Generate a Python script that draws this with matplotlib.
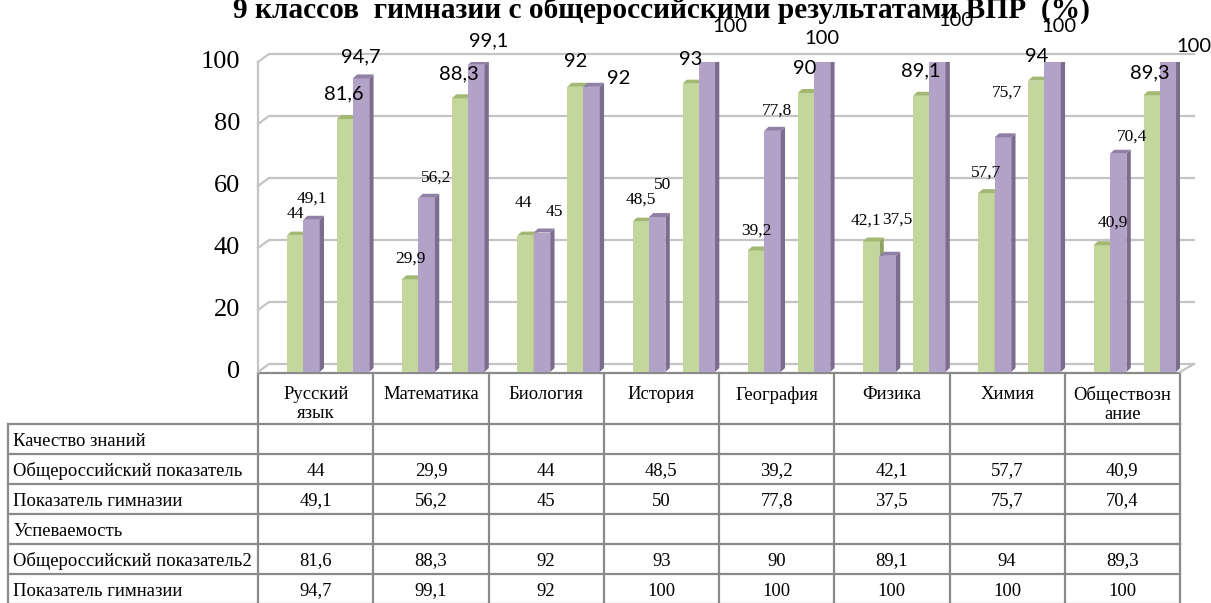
import matplotlib
matplotlib.use('Agg')
import matplotlib.pyplot as plt
from matplotlib.patches import Polygon

# ============================================================
# DATA
# ============================================================
kategori = ['Русский\nязык', 'Математика', 'Биология', 'История',
            'География', 'Физика', 'Химия', 'Обществозн\nание']
kualitas_rf = [44, 29.9, 44, 48.5, 39.2, 42.1, 57.7, 40.9]
kualitas_gim = [49.1, 56.2, 45, 50, 77.8, 37.5, 75.7, 70.4]
sukses_rf = [81.6, 88.3, 92, 93, 90, 89.1, 94, 89.3]
sukses_gim = [94.7, 99.1, 92, 100, 100, 100, 100, 100]

baris_label = ['Качество знаний', 'Общероссийский показатель', 'Показатель гимназии',
               'Успеваемость', 'Общероссийский показатель2', 'Показатель гимназии']
baris_data = [None, kualitas_rf, kualitas_gim, None, sukses_rf, sukses_gim]
y_ticks = [0, 20, 40, 60, 80, 100]
judul = '9 классов  гимназии с общероссийскими результатами ВПР  (%)'

# ============================================================
# LAYOUT (pixel)
# ============================================================
W, H = 1211, 603
X0, X1 = 258, 1180          # front plane of plot / table columns
Y0, Y100 = 372, 62          # value 0 and 100 in pixel
PX_X = (X1 - X0) / len(kategori)
PX_Y = (Y0 - Y100) / 100.0

# offset label (dx, dy ke atas) in pixel, per seri
off_krf = [(0, 22), (0, 21), (-2, 33), (0, 22), (0, 20), (-5, 21), (0, 20), (11, 23)]
off_kgim = [(0, 21), (9, 20), (12, 21), (5, 32), (5, 20), (10, 36), (4, 45), (14, 17)]
off_srf = [(-1, 25), (-1, 24), (0, 25), (0, 24), (-1, 24), (-1, 25), (0, 24), (-2, 22)]
off_sgim = [(0, 22), (12, 24), (27, 8), (23, 35), (0, 23), (19, 41), (6, 35), (26, 16)]

HIJAU = ('#C3D69B', '#8FA55F', '#A2B873')   # front, side, top
UNGU = ('#B3A2C7', '#7B6D8E', '#9080A6')
GRID = '#C4C4C4'
GARIS_TABEL = '#8A8A8A'
SERIF = 'Liberation Serif'


def fmt(v):
    return f'{v:g}'.replace('.', ',')


fig = plt.figure(figsize=(W / 100, H / 100), dpi=100)

# overlay in pixel coordinates (title + table)
ov = fig.add_axes([0, 0, 1, 1])
ov.set_xlim(0, W)
ov.set_ylim(H, 0)
ov.axis('off')

ax = fig.add_axes([X0 / W, (H - Y0) / H, (X1 - X0) / W, (Y0 - Y100) / H])
ax.set_xlim(0, len(kategori))
ax.set_ylim(0, 100)
ax.axis('off')

# ---- 3D box: walls / gridlines ----
dxw = 11 / PX_X
dyw = 8 / PX_Y
x_end = (1194 - X0) / PX_X
for v in y_ticks:
    ax.plot([0, dxw, x_end], [v, v + dyw, v + dyw], color=GRID, lw=1.6,
            clip_on=False, zorder=1, solid_joinstyle='miter')
    ax.text(-18 / PX_X, v, str(v), ha='right', va='center', fontsize=19,
            family=SERIF, clip_on=False)
ax.plot([0, 0], [0, 100], color=GRID, lw=1.6, clip_on=False, zorder=1)
ax.plot([len(kategori), x_end], [0, dyw], color=GRID, lw=1.6, clip_on=False, zorder=1)

# ---- bars ----
lebar = 0.143
ddx = 4.3 / PX_X
ddy = 4 / PX_Y
seri = [
    (kualitas_rf, 0.321, HIJAU, off_krf, 'small'),
    (kualitas_gim, 0.464, UNGU, off_kgim, 'small'),
    (sukses_rf, 0.755, HIJAU, off_srf, 'big'),
    (sukses_gim, 0.894, UNGU, off_sgim, 'big'),
]

z = 2
for i in range(len(kategori)):
    for nilai, pos, warna, offs, jenis in seri:
        h = nilai[i]
        c = i + pos
        b = ax.bar(c, h, width=lebar, color=warna[0], linewidth=0, zorder=z)[0]
        xl = b.get_x()
        xr = xl + b.get_width()
        ax.add_patch(Polygon([(xr, 0), (xr + ddx, ddy), (xr + ddx, h + ddy), (xr, h)],
                             closed=True, facecolor=warna[1], lw=0, zorder=z))
        ax.add_patch(Polygon([(xl, h), (xl + ddx, h + ddy), (xr + ddx, h + ddy), (xr, h)],
                             closed=True, facecolor=warna[2], lw=0, zorder=z))
        z += 1

# ---- data labels ----
for nilai, pos, warna, offs, jenis in seri:
    for i, h in enumerate(nilai):
        if jenis == 'small':
            kw = dict(fontsize=12.5, family=SERIF)
        else:
            kw = dict(fontsize=14.5, family='Lato')
        ax.annotate(fmt(h), (i + pos, h), xytext=offs[i], textcoords='offset pixels',
                    ha='center', va='center', annotation_clip=False, zorder=200, **kw)

# ---- title (terpotong di atas, seperti aslinya) ----
ov.text(661, 18, judul, ha='center', va='baseline', fontsize=21.2, fontweight='bold',
        family=SERIF, zorder=0)

# ---- data table ----
T_LEFT = 8
HDR_BOT = 424
ROW_H = 30
n_row = len(baris_label)
y_bot = HDR_BOT + ROW_H * n_row
lw_t = 1.6
FS_T = 13.4

ov.plot([X0, X1], [Y0 + 1, Y0 + 1], color=GARIS_TABEL, lw=lw_t)
for j in range(len(kategori) + 1):
    xx = X0 + j * PX_X
    ov.plot([xx, xx], [Y0 + 1, y_bot], color=GARIS_TABEL, lw=lw_t)
ov.plot([T_LEFT, T_LEFT], [HDR_BOT, y_bot], color=GARIS_TABEL, lw=lw_t)
for r in range(n_row + 1):
    yy = HDR_BOT + r * ROW_H
    ov.plot([T_LEFT, X1], [yy, yy], color=GARIS_TABEL, lw=lw_t)

for j, nama in enumerate(kategori):
    ov.text(X0 + (j + 0.5) * PX_X, 386, nama, ha='center', va='top', fontsize=FS_T,
            family=SERIF, linespacing=1.15)

for r, lab in enumerate(baris_label):
    yc = HDR_BOT + (r + 0.5) * ROW_H + 2
    ov.text(T_LEFT + 5, yc, lab, ha='left', va='center', fontsize=FS_T, family=SERIF)
    if baris_data[r] is not None:
        for j, v in enumerate(baris_data[r]):
            ov.text(X0 + (j + 0.5) * PX_X, yc, fmt(v), ha='center', va='center',
                    fontsize=FS_T, family=SERIF)

plt.savefig('out.png', dpi=100)
